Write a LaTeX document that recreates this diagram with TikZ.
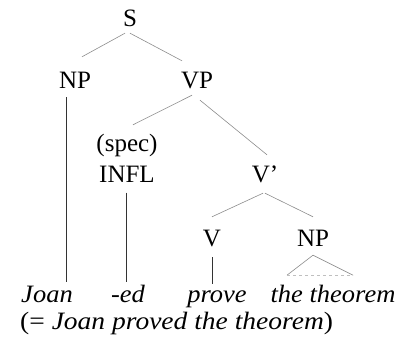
\documentclass[tikz,border=0pt]{standalone}
\usepackage{fontspec}
\setmainfont{Liberation Serif}
\usetikzlibrary{positioning, calc}

\begin{document}
\begin{tikzpicture}[
  x=1pt, y=1pt,
  cat/.style={anchor=base, inner sep=0pt, text height=17pt, text depth=5pt,
              font=\fontsize{25}{30}\selectfont},
  word/.style={cat, xscale=1.06, font=\fontsize{25}{30}\selectfont\itshape},
  branch/.style={draw=black!45, line width=0.6pt},
  stem/.style={draw=black!80, line width=0.8pt},
  roof/.style={draw=black!25, line width=0.5pt, dashed}
]
\useasboundingbox (0,0) rectangle (401,344);

% categories
\node[cat] (S) at (130,317) {S};
\node[cat] (np) at (75,255) {NP};
\node[cat] (vp) at (197,255) {VP};
\node[cat] (spec) at (127,192) {(spec)};
\node[cat, below=8pt of spec] (infl) {INFL};
\node[cat] (vbar) at (265,161) {V'};
\node[cat] (v) at (212,97) {V};
\node[cat] (obj) at (313,97) {NP};

% words
\node[word] (joan) at (47,41) {Joan};
\node[word] (ed) at (128,41) {-ed};
\node[word] (prove) at (217,41) {prove};
\node[word] (thm) at (333,41) {the theorem};
\node[cat, anchor=base west, xscale=1.1] (gloss) at (20,14) {(= \textit{Joan proved the theorem})};

% branches
\draw[branch] ($(S.south)+(-5,-1)$) -- ($(np.north)+(7,15)$);
\draw[branch] ($(S.south)+(0,-1)$) -- ($(vp.north)+(-15,11)$);
\draw[branch] ($(vp.south)+(-5,-1)$) -- ($(spec.north)+(6,10)$);
\draw[branch] ($(vp.south)+(3,-6)$) -- ($(vbar.north)+(2,11)$);
\draw[branch] ($(vbar.south)+(-2,-5)$) -- ($(v.north)+(0,13)$);
\draw[branch] ($(vbar.south)+(0,-5)$) -- ($(obj.north)+(0,13)$);

\draw[stem] ($(np.south)+(-9,-3)$) -- ($(np.south |- joan.north)+(-9,4)$);
\draw[stem] ($(infl.south)+(-1,-5)$) -- ($(infl.south |- ed.north)+(-1,4)$);
\draw[stem] ($(v.south)+(0,-5)$) -- ($(v.south |- prove.north)+(0,2)$);

% roof over the object
\coordinate (apex) at ($(obj.south)+(0,-3)$);
\draw[branch] (apex) -- ++(-26,-20) coordinate (roofL);
\draw[branch] (apex) -- ++(40,-20) coordinate (roofR);
\draw[roof] (roofL) -- (roofR);

\end{tikzpicture}
\end{document}
